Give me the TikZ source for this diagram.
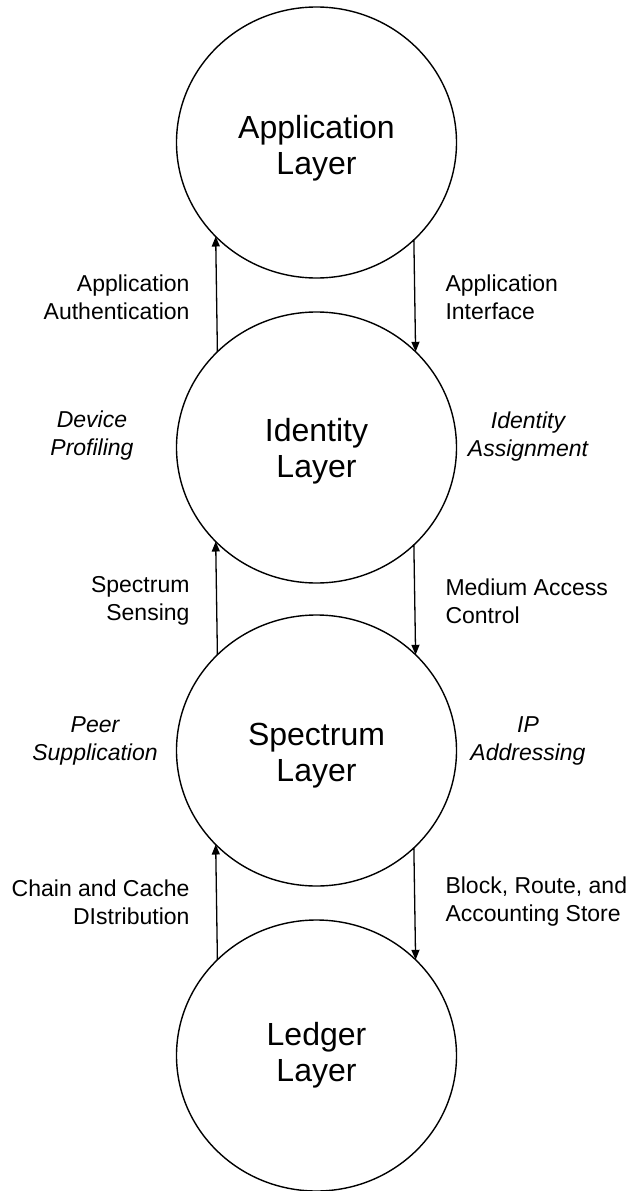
\documentclass[tikz,border=0pt]{standalone}
\usepackage{fontspec}
\setmainfont{Liberation Sans}
\usetikzlibrary{arrows.meta,shapes.geometric}
\begin{document}
\begin{tikzpicture}[x=1pt,y=-1pt,
  layer/.style={draw,ellipse,line width=1.4pt,minimum width=280pt,minimum height=271pt,inner sep=0pt,outer sep=0pt},
  big/.style={font=\fontsize{32}{36}\selectfont,align=center},
  lbl/.style={font=\fontsize{23}{28}\selectfont},
  lblL/.style={lbl,anchor=east,align=right},
  lblR/.style={lbl,anchor=west,align=left},
  ital/.style={font=\fontsize{23}{28}\selectfont\itshape,align=center},
  arr/.style={line width=1.3pt,-{Triangle[length=10pt,width=8pt]}}
]
\useasboundingbox (0,0) rectangle (630,1191);

\node[layer] (app) at (316.5,142.5) {};
\node[layer] (idl) at (316.5,447.5) {};
\node[layer] (spec) at (316.5,750.5) {};
\node[layer] (led) at (316.5,1055.5) {};

\node[big] (appt) at (316.5,148) {Application\\Layer};
\node[big] (idt) at (316.5,451) {Identity\\Layer};
\node[big] (spt) at (316.5,756) {Spectrum\\Layer};
\node[big] (ledt) at (316.5,1055) {Ledger\\Layer};

\draw[arr] (idl.136.4) -- (app.223.6);
\draw[arr] (app.315.2) -- (idl.44.8);
\draw[arr] (spec.136.4) -- (idl.223.6);
\draw[arr] (idl.315.2) -- (spec.44.8);
\draw[arr] (led.136.4) -- (spec.223.6);
\draw[arr] (spec.315.2) -- (led.44.8);

\node[lblL] (l1) at (193,297) {Application\\Authentication};
\node[lblR] (r1) at (442,297) {Application\\Interface};
\node[lblL] (l2) at (193,601) {Spectrum\\Sensing};
\node[lblR] (r2) at (442,601) {Medium Access\\Control};
\node[lblL] (l3) at (193,902) {Chain and Cache\\DIstribution};
\node[lblR] (r3) at (442,902) {Block, Route, and\\Accounting Store};

\node[ital] (i1) at (92,436) {Device\\Profiling};
\node[ital] (i2) at (528,437) {Identity\\Assignment};
\node[ital] (i3) at (95,741) {Peer\\Supplication};
\node[ital] (i4) at (528,741) {IP\\Addressing};
\end{tikzpicture}
\end{document}
